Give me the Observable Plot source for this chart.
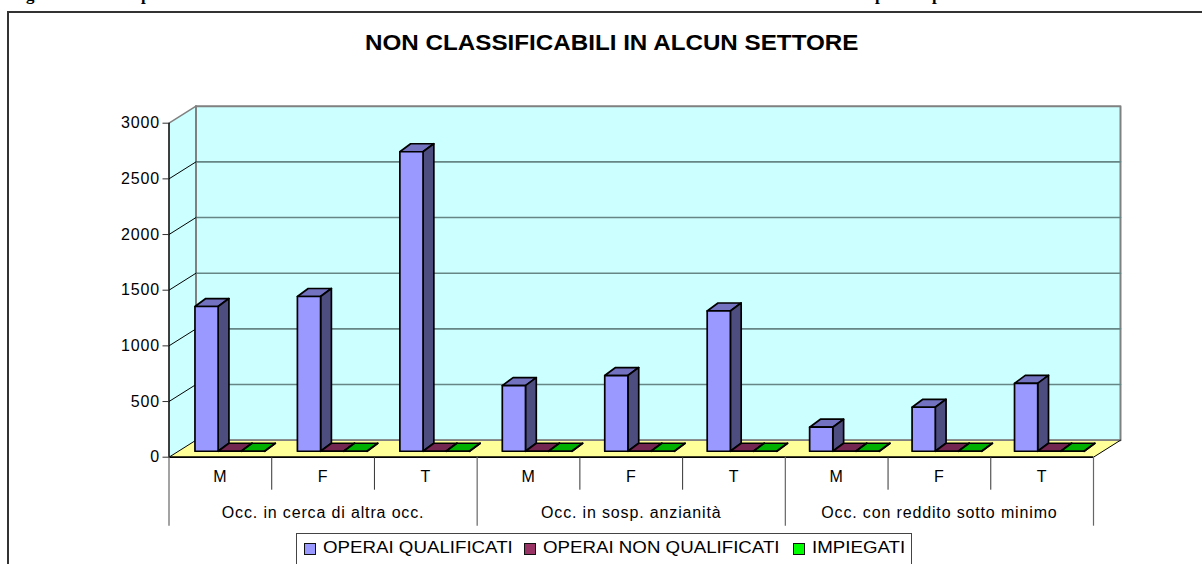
<!DOCTYPE html>
<html><head><meta charset="utf-8">
<script src="https://cdn.jsdelivr.net/npm/d3@7"></script>
<script src="https://cdn.jsdelivr.net/npm/@observablehq/plot@0.6"></script>
<style>
html,body{margin:0;padding:0;background:#fff;overflow:hidden}
#wrap{position:relative;width:1202px;height:564px;overflow:hidden;font-family:"Liberation Sans",Arial,sans-serif;color:#000}
#wrap svg{position:absolute;left:0;top:0}
.t{position:absolute;white-space:nowrap;transform-origin:0 0;transform:scaleX(1.1)}
.sw{position:absolute;width:10px;height:10px;border:1.5px solid #111}
#legend{position:absolute;left:296px;top:533px;width:616px;height:60px;border:1.5px solid #444;box-sizing:border-box}
#frame{position:absolute;left:7px;top:11px;width:1300px;height:700px;border:2px solid #333;box-sizing:border-box}
</style></head><body><div id="wrap">
<div id="frame"></div>
<div id="chart"></div>
<div id="legend"></div>
</div>
<script>
const title = "NON CLASSIFICABILI IN ALCUN SETTORE";
const sexes = ["M","F","T"];
const groups = ["Occ. in cerca di altra occ.","Occ. in sosp. anzianità","Occ. con reddito sotto minimo"];
const yTicks = [0,500,1000,1500,2000,2500,3000];
const operaiQualificati = [1300,1390,2690,590,680,1260,216,395,610];
const operaiNonQualificati = [0,0,0,0,0,0,0,0,0];
const impiegati = [0,0,0,0,0,0,0,0,0];
const seriesNames = ["OPERAI QUALIFICATI","OPERAI NON QUALIFICATI","IMPIEGATI"];
const seriesValues = [operaiQualificati,operaiNonQualificati,impiegati];
const faces = [
  {front:"#9999FF",top:"#7272C0",side:"#4D4D80"},
  {front:"#993366",top:"#732650",side:"#4D1A33"},
  {front:"#00FF00",top:"#00B000",side:"#008000"}
];
const headingFragments = [["g",31],["p",146],["p",880],["p",937]];

// simple oblique projection into the chart's own data space
const W=1202,H=564,x0=168.5,x1=1093,y0=456.7,y3=122.7;
const xDepth = 27/((x1-x0)/9), yDepth = 17/((y0-y3)/3000);
const P = (c,v,d=0,dy=d)=>({x:c+d*xDepth,y:v+dy*yDepth});
const poly = (pts,fill,stroke,strokeWidth)=>Plot.line(pts,{x:"x",y:"y",curve:"linear-closed",fill,stroke,strokeWidth});
const seg = (a,b,stroke,strokeWidth)=>Plot.line([a,b],{x:"x",y:"y",stroke,strokeWidth});

const barStart=.166, barW=.2257, barPitch=.9973, dF=.33, dB=.73, dyF=.35, dyB=.82;
const bars=[];
seriesValues.forEach((vals,s)=>vals.forEach((v,i)=>{
  const a=i*barPitch+barStart+s*barW,b=a+barW,f=faces[s];
  bars.push({i,s,marks:[
    poly([P(a,v,dF,dyF),P(b,v,dF,dyF),P(b,v,dB,dyB),P(a,v,dB,dyB)],f.top,"#000",1.7),
    poly([P(b,0,dF,dyF),P(b,v,dF,dyF),P(b,v,dB,dyB),P(b,0,dB,dyB)],f.side,"#000",1.7),
    poly([P(a,0,dF,dyF),P(b,0,dF,dyF),P(b,v,dF,dyF),P(a,v,dF,dyF)],f.front,"#000",1.7)
  ]});
}));
bars.sort((p,q)=>p.i-q.i||p.s-q.s);

const cats=d3.range(9).map(i=>({x:i+.5,label:sexes[i%3]}));
const grp=groups.map((label,i)=>({x:i*3+1.5,label}));
const sep=d3.range(10);
const below = px => -px*3000/(y0-y3);
const style={fontFamily:"Liberation Sans, Arial, sans-serif",letterSpacing:"0.85px",background:"transparent",overflow:"visible"};

const plot=Plot.plot({
  width:W,height:H,marginLeft:x0,marginRight:W-x1,marginTop:y3,marginBottom:H-y0,style,
  x:{type:"linear",domain:[0,9],axis:null},
  y:{type:"linear",domain:[0,3000],range:[y0,y3],clamp:false,label:null,axis:null},
  marks:[
    poly([P(0,0,1),P(9,0,1),P(9,3000,1),P(0,3000,1)],"#CCFFFF","#808080",2),
    poly([P(0,0,0),P(0,0,1),P(0,3000,1),P(0,3000,0)],"#CCFFFF","none",0),
    poly([P(0,0,0),P(9,0,0),P(9,0,1),P(0,0,1)],"#FFFF99","none",0),
    seg(P(0,0,1),P(9,0,1),"#808080",1.5),
    seg(P(0,0,1),P(0,3000,1),"#808080",2),
    ...yTicks.slice(1,-1).map(v=>seg(P(0,v,1),P(9,v,1),"#668585",1.6)),
    ...yTicks.slice(0,-1).map(v=>seg(P(0,v,0),P(0,v,1),"#000",1)),
    seg(P(0,3000,0),P(0,3000,1),"#808080",1.5),
    seg(P(9,0,0),P(9,0,1),"#000",1),
    ...bars.flatMap(b=>b.marks),
    Plot.ruleX([0],{y1:0,y2:3000,stroke:"#000",strokeWidth:1.5}),
    Plot.ruleY([0],{stroke:"#000",strokeWidth:1.7}),
    Plot.axisY({ticks:yTicks,tickSize:6,tickPadding:3,tickFormat:d=>String(d),fontSize:16,label:null,stroke:"#333"}),
    Plot.ruleX(sep.filter(d=>d%3!==0),{x:d=>d,y1:0,y2:below(33),stroke:"#333",strokeWidth:1}),
    Plot.ruleX(sep.filter(d=>d%3===0),{x:d=>d,y1:0,y2:below(69),stroke:"#666",strokeWidth:1.2}),
    Plot.text(cats,{x:"x",y:0,text:"label",dy:20,fontSize:16}),
    Plot.text(grp,{x:"x",y:0,text:"label",dy:56,fontSize:16})
  ]
});
document.getElementById("chart").appendChild(plot);

const wrap=document.getElementById("wrap");
const add=(txt,css)=>{const e=document.createElement("div");e.className="t";e.textContent=txt;Object.assign(e.style,css);wrap.appendChild(e);return e;};
add(title,{left:"365px",top:"30px",fontSize:"22px",fontWeight:"bold"});
headingFragments.forEach(([c,x])=>add(c,{left:(x-5)+"px",top:"-15px",fontFamily:"Liberation Serif",fontWeight:"bold",fontSize:"17px",lineHeight:"19px",transform:"none"}));
const legX=[[304,323],[524,543],[793,812]];
seriesNames.forEach((n,i)=>{
  const s=document.createElement("div");s.className="sw";
  s.style.left=legX[i][0]+"px";s.style.top="543px";s.style.background=faces[i].front;wrap.appendChild(s);
  add(n,{left:legX[i][1]+"px",top:"538px",fontSize:"17px"});
});
</script></body></html>
